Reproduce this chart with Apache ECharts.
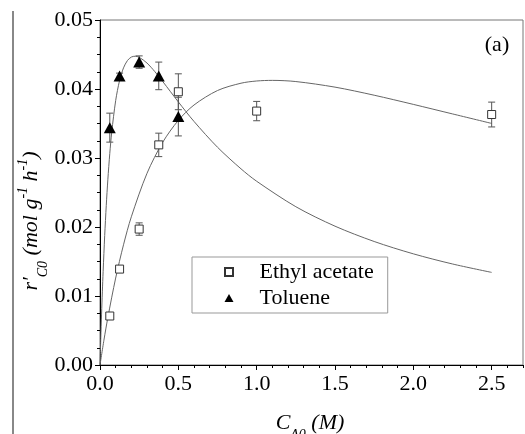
<!DOCTYPE html>
<html>
<head>
<meta charset="utf-8">
<script src="https://cdn.jsdelivr.net/npm/echarts@6/dist/echarts.min.js"></script>
<style>
html,body{margin:0;padding:0;background:#fff;}
#c{width:525px;height:434px;}
</style>
</head>
<body>
<div id="c"></div>
<script>
// ---- data ----
var xTicks = [0.0, 0.5, 1.0, 1.5, 2.0, 2.5];
var yTicks = [0.00, 0.01, 0.02, 0.03, 0.04, 0.05];
// Ethyl acetate measured points: [C_A0, r, error]
var eaX = [0.0625, 0.125, 0.25, 0.375, 0.5, 1.0, 2.5];
var eaY = [0.0071, 0.0139, 0.0197, 0.0319, 0.0396, 0.0368, 0.0363];
var eaErr = [0.0003, 0.0003, 0.0009, 0.0017, 0.0026, 0.0014, 0.0018];
// Toluene measured points
var tolX = [0.0625, 0.125, 0.25, 0.375, 0.5];
var tolY = [0.0344, 0.0419, 0.0439, 0.0419, 0.0360];
var tolErr = [0.0021, 0.0004, 0.0009, 0.0020, 0.0028];
// fitted curves
var eaFitX = [0, 0.025, 0.05, 0.1, 0.15, 0.2, 0.3, 0.4, 0.5, 0.6, 0.75, 0.9, 1.0, 1.1, 1.25, 1.5, 1.75, 2.0, 2.25, 2.5];
var eaFitY = [0, 0.00359, 0.00686, 0.0126, 0.01742, 0.02148, 0.02778, 0.03227, 0.03545, 0.03768, 0.03978, 0.04084, 0.04116, 0.04125, 0.04108, 0.04027, 0.0391, 0.03777, 0.03639, 0.03501];
var tolFitX = [0, 0.005, 0.01, 0.015, 0.02, 0.03, 0.04, 0.05, 0.0625, 0.075, 0.1, 0.125, 0.15, 0.175, 0.2, 0.225, 0.25, 0.3, 0.35, 0.4, 0.5, 0.6, 0.75, 0.9, 1.0, 1.25, 1.5, 1.75, 2.0, 2.25, 2.5];
var tolFitY = [0, 0.00385, 0.00738, 0.0106, 0.01356, 0.01876, 0.02314, 0.02684, 0.03067, 0.03377, 0.03831, 0.04124, 0.04306, 0.04412, 0.04463, 0.04475, 0.0446, 0.04376, 0.04252, 0.0411, 0.03813, 0.0353, 0.03156, 0.02843, 0.02663, 0.02294, 0.02012, 0.0179, 0.01611, 0.01464, 0.01342];

function zip2(a, b) { return a.map(function (v, i) { return [v, b[i]]; }); }
function zip3(a, b, c) { return a.map(function (v, i) { return [v, b[i], c[i]]; }); }

var FONT = '"Liberation Serif", "Times New Roman", serif';

function errRender(params, api) {
  var x = api.value(0), y = api.value(1), e = api.value(2);
  var t = api.coord([x, y + e]);
  var b = api.coord([x, y - e]);
  var hw = 3.5;
  var st = { stroke: '#555', lineWidth: 1 };
  return {
    type: 'group',
    children: [
      { type: 'line', shape: { x1: t[0], y1: t[1], x2: b[0], y2: b[1] }, style: st },
      { type: 'line', shape: { x1: t[0] - hw, y1: t[1], x2: t[0] + hw, y2: t[1] }, style: st },
      { type: 'line', shape: { x1: b[0] - hw, y1: b[1], x2: b[0] + hw, y2: b[1] }, style: st }
    ]
  };
}

var chart = echarts.init(document.getElementById('c'), null, { renderer: 'canvas' });
chart.setOption({
  animation: false,
  backgroundColor: '#fff',
  grid: { left: 100, right: 2, top: 20, bottom: 69, show: true, borderColor: '#777', borderWidth: 1 },
  xAxis: [{
    type: 'value', min: 0, max: 2.7, interval: 0.5, position: 'bottom',
    axisLine: { show: true, lineStyle: { color: '#000', width: 1 } },
    axisTick: { show: true, inside: false, length: 5, lineStyle: { color: '#000' } },
    axisLabel: {
      show: true, margin: 8, color: '#000', fontFamily: FONT, fontSize: 22, showMaxLabel: false,
      formatter: function (v) {
        for (var i = 0; i < xTicks.length; i++) if (Math.abs(v - xTicks[i]) < 1e-9) return xTicks[i].toFixed(1);
        return '';
      }
    },
    splitLine: { show: false }
  }, {
    type: 'value', min: 0, max: 2.7, interval: 0.1, position: 'bottom',
    axisLine: { show: false },
    axisTick: { show: true, inside: false, length: 3, lineStyle: { color: '#000' } },
    axisLabel: { show: false },
    splitLine: { show: false }
  }],
  yAxis: {
    type: 'value', min: 0, max: 0.05, interval: 0.01,
    axisLine: { show: true, lineStyle: { color: '#000', width: 1 } },
    axisTick: { show: true, inside: false, length: 5, lineStyle: { color: '#000' } },
    minorTick: { show: true, splitNumber: 4, length: 3, lineStyle: { color: '#000' } },
    axisLabel: {
      margin: 7, color: '#000', fontFamily: FONT, fontSize: 22,
      formatter: function (v) {
        for (var i = 0; i < yTicks.length; i++) if (Math.abs(v - yTicks[i]) < 1e-9) return yTicks[i].toFixed(2);
        return '';
      }
    },
    splitLine: { show: false }
  },
  legend: {
    data: [
      { name: 'Ethyl acetate', icon: 'path://M0,0H10V10H0Z' },
      { name: 'Toluene' }
    ],
    orient: 'vertical', left: 192, top: 257,
    padding: [4, 14, 4, 32],
    itemGap: 4, itemWidth: 9, itemHeight: 8,
    borderColor: '#999', borderWidth: 1, backgroundColor: '#fff',
    selectedMode: false,
    textStyle: { fontFamily: FONT, fontSize: 22, color: '#000', lineHeight: 22, padding: [0, 0, 0, 21] }
  },
  graphic: [
    { type: 'line', shape: { x1: 13, y1: 11, x2: 13, y2: 434 }, style: { stroke: '#888', lineWidth: 2 } },
    { type: 'text', x: 497, y: 45, style: { text: '(a)', font: '22px ' + FONT, fill: '#000', align: 'center', verticalAlign: 'middle' } },
    {
      type: 'text', x: 310, y: 423,
      style: {
        text: '{i|C}{s|A0}{i| (M)}', align: 'center', verticalAlign: 'middle',
        rich: {
          i: { fontFamily: FONT, fontStyle: 'italic', fontSize: 22, lineHeight: 26, verticalAlign: 'middle', fill: '#000' },
          s: { fontFamily: FONT, fontStyle: 'italic', fontSize: 14, lineHeight: 26, verticalAlign: 'bottom', padding: [0, 0, -6, 0], fill: '#000' }
        }
      }
    },
    {
      type: 'text', x: 31, y: 221, rotation: Math.PI / 2,
      style: {
        text: '{i|r\u2032}{s|C0}{i| (mol g}{p|-1}{i| h}{p|-1}{i|)}', align: 'center', verticalAlign: 'middle',
        rich: {
          i: { fontFamily: FONT, fontStyle: 'italic', fontSize: 22, lineHeight: 26, verticalAlign: 'middle', fill: '#000' },
          s: { fontFamily: FONT, fontStyle: 'italic', fontSize: 14, lineHeight: 26, verticalAlign: 'bottom', padding: [0, 0, -6, 0], fill: '#000' },
          p: { fontFamily: FONT, fontStyle: 'italic', fontSize: 14, lineHeight: 26, verticalAlign: 'top', padding: [-2, 0, 0, 0], fill: '#000' }
        }
      }
    }
  ],
  series: [
    {
      name: 'EA fit', type: 'line', xAxisIndex: 0, data: zip2(eaFitX, eaFitY), showSymbol: false, symbol: 'none',
      smooth: 0.3, lineStyle: { color: '#666', width: 1 }, z: 1, silent: true
    },
    {
      name: 'Toluene fit', type: 'line', xAxisIndex: 0, data: zip2(tolFitX, tolFitY), showSymbol: false, symbol: 'none',
      smooth: 0.3, lineStyle: { color: '#666', width: 1 }, z: 1, silent: true
    },
    {
      name: 'EA err', type: 'custom', xAxisIndex: 0, data: zip3(eaX, eaY, eaErr), renderItem: errRender,
      encode: { x: 0, y: 1 }, z: 2, silent: true
    },
    {
      name: 'Tol err', type: 'custom', xAxisIndex: 0, data: zip3(tolX, tolY, tolErr), renderItem: errRender,
      encode: { x: 0, y: 1 }, z: 2, silent: true
    },
    {
      name: 'Ethyl acetate', type: 'scatter', xAxisIndex: 0, data: zip2(eaX, eaY), symbol: 'rect', symbolSize: 8,
      itemStyle: { color: '#fff', borderColor: '#333', borderWidth: 1, opacity: 1 }, z: 3
    },
    {
      name: 'Toluene', type: 'scatter', xAxisIndex: 0, data: zip2(tolX, tolY), symbol: 'triangle', symbolSize: [12, 11],
      itemStyle: { color: '#000', opacity: 1 }, z: 3
    }
  ]
});
</script>
</body>
</html>
